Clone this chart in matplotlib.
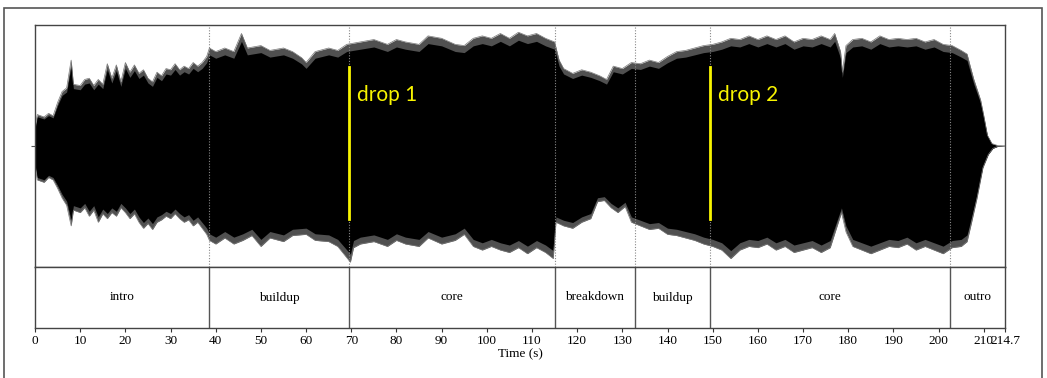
#!/usr/bin/env python3
## Waveform of a track with its structure segments underneath

import numpy as np
import matplotlib
matplotlib.use("Agg")
import matplotlib.pyplot as plt
from matplotlib.patches import Rectangle
plt.rcParams["font.family"] = ["Liberation Serif", "DejaVu Serif"]

duration = 214.7

# peak envelope of the waveform (time in s, amplitude normalised)
env_t = [0, 0.5, 2, 3, 4, 5, 6, 7, 8, 8.5, 10, 11, 12, 13, 14, 15, 16, 17, 18, 19,
         20, 21, 22, 23, 24, 25, 26, 27, 28, 29, 30, 31, 32, 33, 34, 35, 36, 37, 38, 38.6,
         40, 42, 44, 45.7, 47, 50, 52, 55, 57, 59, 60, 62, 65, 67, 69, 72, 75, 78, 80, 82,
         85, 87, 90, 93, 95, 97, 99, 101, 103, 105, 107, 109, 111, 113, 115, 116, 117, 119, 121, 123,
         125, 126.5, 128, 130, 132, 134, 136, 138, 140, 142, 144, 146, 148, 150, 152, 154, 156, 158, 160, 162,
         164, 166, 168, 170, 172, 174, 176, 177, 178.3, 178.7, 179.5, 181, 183, 185, 187, 189, 191, 193, 195, 197,
         199, 201, 203, 205, 206.3, 207, 207.8, 208.6, 209.3, 210, 210.8, 211.8, 213, 214.7]
env_up = [0.15, 0.26, 0.24, 0.27, 0.25, 0.36, 0.45, 0.48, 0.71, 0.51, 0.50, 0.55, 0.56, 0.50, 0.55, 0.51, 0.68, 0.56, 0.67, 0.53,
          0.69, 0.61, 0.67, 0.60, 0.63, 0.56, 0.53, 0.61, 0.58, 0.64, 0.63, 0.68, 0.63, 0.66, 0.64, 0.69, 0.66, 0.69, 0.74, 0.81,
          0.78, 0.81, 0.78, 0.93, 0.81, 0.83, 0.79, 0.81, 0.78, 0.73, 0.69, 0.78, 0.81, 0.79, 0.84, 0.86, 0.88, 0.84, 0.88, 0.86,
          0.84, 0.91, 0.89, 0.84, 0.83, 0.89, 0.91, 0.89, 0.93, 0.89, 0.94, 0.91, 0.93, 0.89, 0.86, 0.71, 0.64, 0.60, 0.63, 0.61,
          0.58, 0.55, 0.66, 0.64, 0.69, 0.68, 0.71, 0.69, 0.74, 0.78, 0.79, 0.81, 0.83, 0.84, 0.86, 0.89, 0.88, 0.91, 0.88, 0.91,
          0.88, 0.91, 0.86, 0.89, 0.88, 0.91, 0.88, 0.93, 0.78, 0.61, 0.83, 0.88, 0.89, 0.86, 0.91, 0.88, 0.89, 0.88, 0.89, 0.86,
          0.88, 0.84, 0.83, 0.79, 0.76, 0.66, 0.55, 0.46, 0.38, 0.25, 0.09, 0.02, 0.005, 0.0]

low_t = [0, 0.5, 2, 3, 4, 5, 6, 7, 8, 8.5, 10, 11, 12, 13, 14, 15, 16, 17, 18, 19,
         20, 21, 22, 23, 24, 25, 26, 27, 28, 29, 30, 31, 32, 33, 34, 35, 36, 37, 38, 38.6,
         40, 42, 44, 46, 48, 50, 52, 55, 57, 60, 62, 65, 67, 69.8, 70.5, 72, 75, 78, 80, 82,
         85, 87, 90, 93, 95, 97, 99, 101, 103, 105, 107, 109, 111, 113, 114.7, 115.3, 117, 119, 121, 123,
         124.5, 126, 127.5, 129, 130.6, 132, 134, 136, 138, 140, 142, 144, 146, 148, 150, 152, 154, 156, 158, 160,
         162, 164, 166, 168, 170, 172, 174, 176, 177.8, 178.5, 179.5, 181, 183, 185, 187, 189, 191, 193, 195, 197,
         199, 201, 203, 205, 206.3, 207.3, 208.5, 209.8, 211, 212, 213, 214.7]
env_low = [-0.16, -0.28, -0.30, -0.26, -0.28, -0.35, -0.43, -0.49, -0.66, -0.53, -0.55, -0.51, -0.58, -0.53, -0.63, -0.56, -0.60, -0.55, -0.58, -0.51,
           -0.55, -0.60, -0.56, -0.63, -0.68, -0.64, -0.69, -0.63, -0.61, -0.58, -0.60, -0.56, -0.60, -0.63, -0.61, -0.66, -0.63, -0.68, -0.73, -0.78,
           -0.81, -0.76, -0.81, -0.78, -0.74, -0.83, -0.76, -0.79, -0.74, -0.73, -0.78, -0.79, -0.83, -0.96, -0.84, -0.81, -0.79, -0.83, -0.78, -0.81,
           -0.83, -0.76, -0.81, -0.78, -0.73, -0.83, -0.86, -0.83, -0.86, -0.88, -0.84, -0.89, -0.84, -0.88, -0.93, -0.63, -0.66, -0.68, -0.63, -0.60,
           -0.46, -0.45, -0.51, -0.55, -0.50, -0.63, -0.66, -0.69, -0.68, -0.73, -0.74, -0.76, -0.78, -0.81, -0.83, -0.86, -0.93, -0.86, -0.83, -0.84,
           -0.81, -0.86, -0.83, -0.88, -0.86, -0.84, -0.88, -0.84, -0.63, -0.55, -0.71, -0.83, -0.86, -0.89, -0.86, -0.83, -0.84, -0.81, -0.86, -0.83,
           -0.86, -0.89, -0.84, -0.83, -0.79, -0.63, -0.43, -0.18, -0.07, -0.02, -0.004, 0.0]

seg_names = ["intro", "buildup", "core", "breakdown", "buildup", "core", "outro"]
seg_bounds = [0, 38.5, 69.5, 115.0, 132.7, 149.4, 202.5, duration]

drop_times = [69.5, 149.4]
drop_labels = ["drop 1", "drop 2"]

xticks = list(range(0, 211, 10)) + [duration]
xticklabels = [str(x) for x in range(0, 211, 10)] + ["214.7"]

######################################################################################
fig = plt.figure(figsize=(10.47, 3.78), dpi=100)
fig.add_artist(Rectangle((4/1047, -0.05), 1038/1047, 1.05 - 8/378, transform=fig.transFigure,
                         fill=False, edgecolor="#555555", linewidth=1.2))

ax = fig.add_axes([35/1047, 1 - 267/378, 970/1047, 242/378])
ax2 = fig.add_axes([35/1047, 1 - 328/378, 970/1047, 61/378])

# waveform: spike tips in dark grey, dense body in black
grid_t = np.union1d(env_t, low_t)
up = np.interp(grid_t, env_t, env_up)
lo = np.interp(grid_t, low_t, env_low)
ax.fill_between(grid_t, lo, up, color="#505050", linewidth=0)
ax.fill_between(grid_t, lo * 0.93, up * 0.93, color="black", linewidth=0)
ax.plot(env_t, env_up, color="#777777", lw=0.5)
ax.plot(low_t, env_low, color="#777777", lw=0.5)

for b in seg_bounds[1:-1]:
    ax.axvline(b, color="#888888", lw=0.8, ls=(0, (1, 1.5)))

for t, lab in zip(drop_times, drop_labels):
    ax.plot([t, t], [-0.60, 0.65], color="#f8f400", lw=2)
    ax.text(t + 1.8, 0.42, lab, color="#f8f400", fontsize=15, family=["Lato", "DejaVu Sans"],
            va="center", ha="left")

ax.set_xlim(0, duration)
ax.set_ylim(-1, 1)
ax.set_xticks([])
ax.set_yticks([0])
ax.set_yticklabels([])
ax.tick_params(axis="y", length=3, color="#555555")
for s in ax.spines.values():
    s.set_color("#444444")
    s.set_linewidth(1)

# segments
for b in seg_bounds[1:-1]:
    ax2.axvline(b, color="#555555", lw=1)
for i, name in enumerate(seg_names):
    ax2.text((seg_bounds[i] + seg_bounds[i+1]) / 2, 0.5, name, ha="center", va="center", fontsize=9.5)
ax2.set_xlim(0, duration)
ax2.set_ylim(0, 1)
ax2.set_yticks([])
ax2.set_xticks(xticks)
ax2.set_xticklabels(xticklabels, fontsize=9.5)
ax2.tick_params(axis="x", length=3, pad=2, color="#333333")
ax2.set_xlabel("Time (s)", fontsize=9.5, labelpad=1)
for s in ax2.spines.values():
    s.set_color("#444444")
    s.set_linewidth(1)

plt.savefig("out.png", dpi=100)
